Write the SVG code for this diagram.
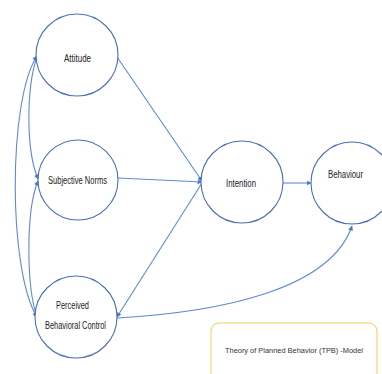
<svg xmlns="http://www.w3.org/2000/svg" width="382" height="374" viewBox="0 0 382 374">
<style>
.node{fill:#fff;stroke:#4a6fb5;stroke-width:1.1}
.lbl{font-family:"Liberation Sans",Arial,sans-serif;font-size:10px;fill:#222;text-anchor:middle}
.con{fill:none;stroke:#5f8ad4;stroke-width:1.1}
</style>
<defs>
<marker id="ah" viewBox="0 0 10 10" refX="9" refY="5" markerWidth="4.5" markerHeight="4.5" orient="auto-start-reverse">
<path d="M0,0 L10,5 L0,10 z" fill="#4a78cc"/>
</marker>
</defs>
<rect width="382" height="374" fill="#fff"/>
<g id="connectors">
<path class="con" d="M117,57 L202,181" marker-end="url(#ah)"/>
<path class="con" d="M118,178 L202,182" marker-end="url(#ah)"/>
<path class="con" d="M202,183 L117,317" marker-end="url(#ah)"/>
<path class="con" d="M282,183 L311,183" marker-end="url(#ah)"/>
<path class="con" d="M117,318 C220,312 330,290 352,226" marker-end="url(#ah)"/>
<path class="con" d="M37,56 C8,100 8,270 37,317" marker-start="url(#ah)" marker-end="url(#ah)"/>
<path class="con" d="M37,56 C26,90 26,150 38,179" marker-start="url(#ah)" marker-end="url(#ah)"/>
<path class="con" d="M38,181 C26,210 26,285 37,317" marker-start="url(#ah)" marker-end="url(#ah)"/>
</g>
<g id="attitude">
<circle class="node" cx="77" cy="55" r="41"/>
<text class="lbl" x="77.5" y="62" textLength="27" lengthAdjust="spacingAndGlyphs">Attitude</text>
</g>
<g id="subjective-norms">
<circle class="node" cx="78" cy="180" r="40"/>
<text class="lbl" x="77.5" y="184" textLength="59" lengthAdjust="spacingAndGlyphs">Subjective Norms</text>
</g>
<g id="perceived-behavioral-control">
<circle class="node" cx="76" cy="317" r="41"/>
<text class="lbl" x="72.5" y="309" textLength="33" lengthAdjust="spacingAndGlyphs">Perceived</text>
<text class="lbl" x="75.5" y="329" textLength="61" lengthAdjust="spacingAndGlyphs">Behavioral Control</text>
</g>
<g id="intention">
<circle class="node" cx="242" cy="182" r="41"/>
<text class="lbl" x="241" y="187" textLength="30" lengthAdjust="spacingAndGlyphs">Intention</text>
</g>
<g id="behaviour">
<circle class="node" cx="352" cy="183" r="41"/>
<text class="lbl" x="345.5" y="178" textLength="35" lengthAdjust="spacingAndGlyphs">Behaviour</text>
</g>
<g id="legend">
<rect x="211" y="323" width="166" height="60" rx="8" fill="#fff" stroke="#f7c95a" stroke-width="1"/>
<text class="lbl" x="294" y="353" style="fill:#333;font-size:8px" textLength="138" lengthAdjust="spacingAndGlyphs">Theory of Planned Behavior (TPB) -Model</text>
</g>
</svg>
